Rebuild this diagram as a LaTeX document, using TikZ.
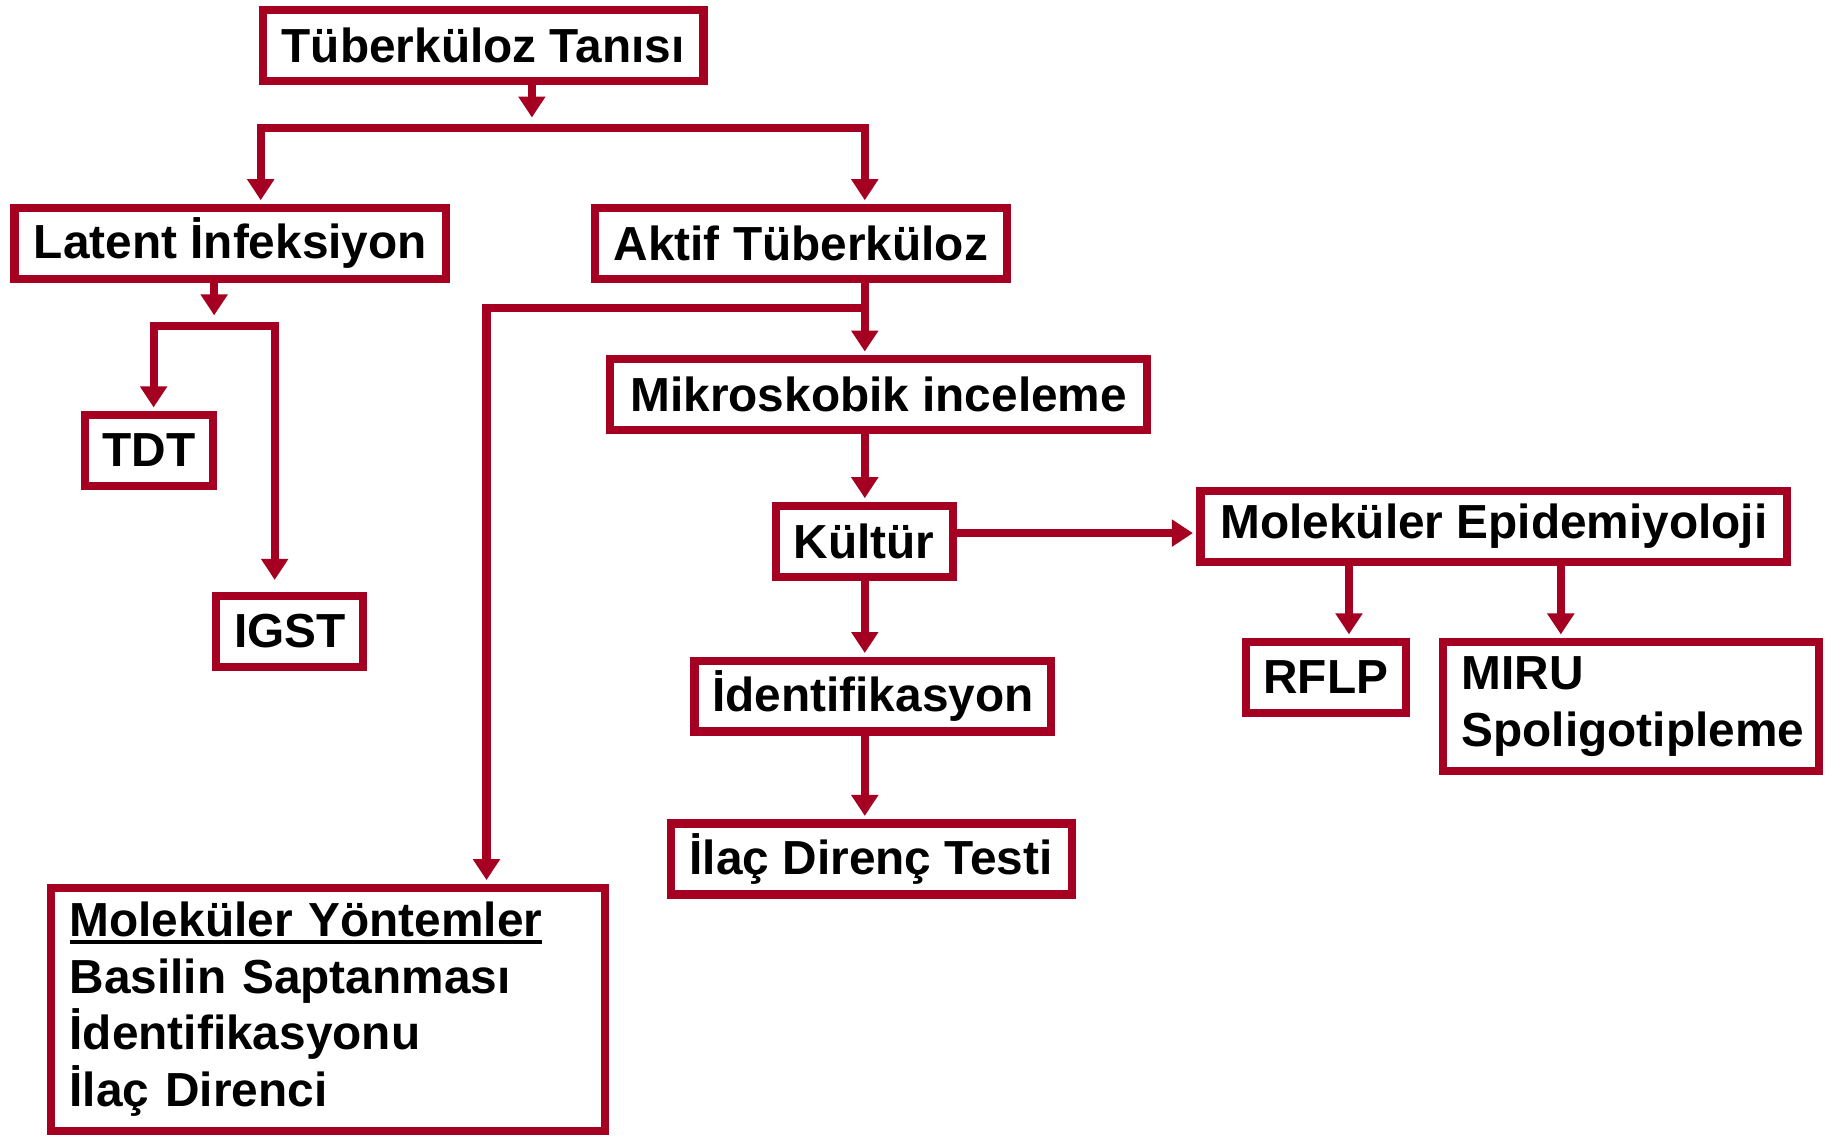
\documentclass[tikz,border=0pt]{standalone}
\usepackage{fontspec}
\setmainfont{Liberation Sans}
\usepackage{tikz}
\usetikzlibrary{arrows.meta}
\definecolor{koyukirmizi}{HTML}{A50021}
\def\pxscale{0.011639cm}
\def\cizgi{2.3pt}
\newcommand\altcizgili[1]{\setbox0\hbox{#1}\rlap{\rule[-2.3pt]{\wd0}{1.2pt}}#1}
\tikzset{kutu/.style={draw=koyukirmizi, line width=\cizgi, fill=white, inner sep=0pt,
    minimum height=0.71cm, font=\fontsize{13.6}{16.2}\selectfont\bfseries}}
\tikzset{soltext/.style={kutu, align=left, inner xsep=0.19cm}}
\tikzset{ok/.style={draw=koyukirmizi, line width=\cizgi, miter limit=4,
    -{Triangle[width=0.26cm, length=0.21cm]}, shorten >=1pt}}

\begin{document}
\begin{tikzpicture}[x=\pxscale, y=-\pxscale]
\useasboundingbox (0,0) rectangle (1568,978);
\node (tani) [kutu, minimum width=4.41cm] at (415, 39) {Tüberküloz Tanısı};
\node (latent) [kutu, minimum width=4.32cm] at (198, 209) {Latent İnfeksiyon};
\node (aktif) [kutu, minimum width=4.12cm] at (688, 209) {Aktif Tüberküloz};
\node (tdt) [kutu, minimum width=1.28cm] at (128, 387) {TDT};
\node (igst) [kutu, minimum width=1.47cm] at (249, 542.5) {IGST};
\node (mikro) [kutu, minimum width=5.37cm] at (755, 339) {Mikroskobik inceleme};
\node (kultur) [kutu, minimum width=1.77cm] at (742.5, 465) {Kültür};
\node (molepi) [kutu, minimum width=5.87cm] at (1283.5, 452) {Moleküler Epidemiyoloji};
\node (ident) [kutu, minimum width=3.57cm] at (750, 598) {İdentifikasyon};
\node (ilac) [kutu, minimum width=4.01cm] at (748.5, 738) {İlaç Direnç Testi};
\node (rflp) [kutu, minimum width=1.60cm] at (1139, 582) {RFLP};
\node (miru) [soltext, text width=3.38cm, minimum height=1.29cm] at (1401, 607) {MIRU\\Spoligotipleme};
\node (molyon) [soltext, text width=5.16cm, minimum height=2.43cm] at (281.5, 867)
  {\altcizgili{Moleküler Yöntemler}\\Basilin Saptanması\\İdentifikasyonu\\İlaç Direnci};

% ayrim noktalari
\coordinate (tb) at (457, 110);
\coordinate (tl) at (224, 110);
\coordinate (tr) at (743, 110);
\coordinate (lb) at (184, 280);
\coordinate (ll) at (132, 280);
\coordinate (lr) at (236, 280);
\coordinate (ab) at (743, 265);
\coordinate (al) at (418, 265);
\coordinate (kc) at (900, 458);
\coordinate (e1) at (1159, 500);
\coordinate (e2) at (1341, 500);

\draw[ok, shorten >=3pt] (tani.south -| tb) -- (tb);
\draw[ok] (tb) -| (latent.north -| tl);
\draw[ok] (tb) -| (aktif.north -| tr);

\draw[ok, shorten >=3pt] (latent.south -| lb) -- (lb);
\draw[ok] (lb) -| (tdt.north -| ll);
\draw[ok, shorten >=0.12cm] (lb) -| (igst.north -| lr);

\draw[ok] (aktif.south -| ab) -- (mikro.north -| ab);
\draw[ok] (ab) -| (molyon.north -| al);
\draw[ok] (mikro.south -| ab) -- (kultur.north -| ab);
\draw[ok] (kultur.east |- kc) -- (molepi.west |- kc);
\draw[ok] (kultur.south -| ab) -- (ident.north -| ab);
\draw[ok] (ident.south -| ab) -- (ilac.north -| ab);
\draw[ok] (molepi.south -| e1) -- (rflp.north -| e1);
\draw[ok] (molepi.south -| e2) -- (miru.north -| e2);
\end{tikzpicture}
\end{document}
